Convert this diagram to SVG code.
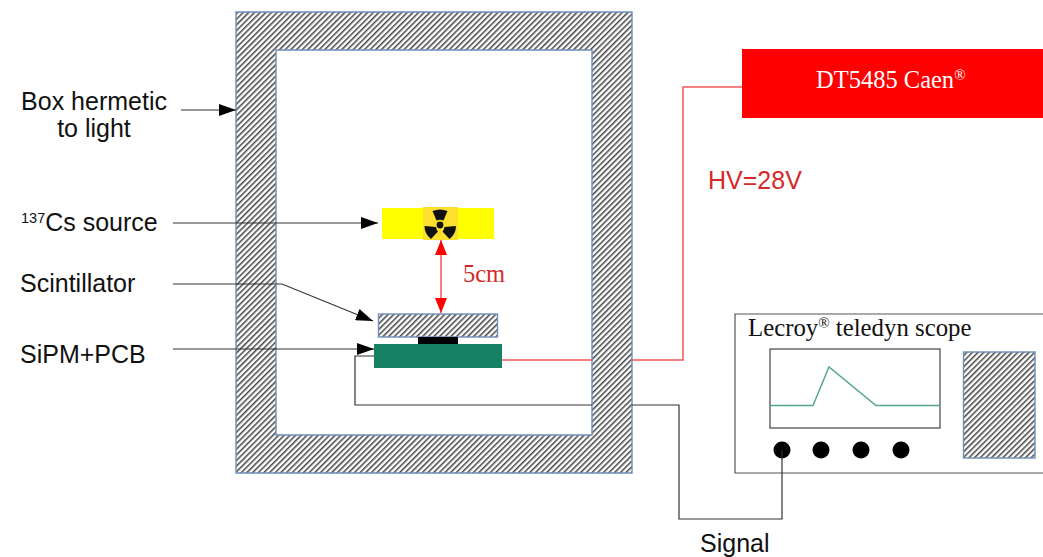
<svg xmlns="http://www.w3.org/2000/svg" width="1043" height="557" viewBox="0 0 1043 557">
<style>
.s{font-family:"Liberation Sans",Arial,sans-serif;font-size:25px;fill:#111}
.t{font-family:"Liberation Serif","Times New Roman",serif}
.h{fill:url(#hatch);stroke:#6d8fb8;stroke-width:1.4}
.c{fill:none;stroke:#333;stroke-width:1.2}
.k{fill:none;stroke:#333;stroke-width:1.2;marker-end:url(#ah)}
.r{fill:none;stroke:#f05a5a;stroke-width:1.5}
.d{fill:#000}
</style>
<defs>
<pattern id="hatch" width="4" height="4" patternUnits="userSpaceOnUse" patternTransform="rotate(-45)">
<rect width="4" height="4" fill="#fff"/><rect width="4" height="1.5" fill="#444"/>
</pattern>
<marker id="ah" markerUnits="userSpaceOnUse" markerWidth="18" markerHeight="12" refX="17" refY="6" orient="auto"><path d="M0 0L17 6L0 12Z" fill="#000"/></marker>
</defs>
<g id="box"><path class="h" fill-rule="evenodd" d="M236 12H632V473H236ZM276 50V435H592V50Z"/></g>
<g id="source">
<rect x="382" y="208" width="112" height="31" fill="#ff0"/>
<rect x="423" y="207" width="35" height="33" fill="#fde02e"/>
<circle cx="440" cy="225" r="3.400" fill="#111"/>
<path fill="#111" d="M432.500 211Q440 208 447.500 211L443.500 220.500Q440 219 436.500 220.500ZM424.500 226L436 227Q436.500 230 438 231.500L431 239Q424.500 234 424.500 226ZM456 226L444.500 227Q444 230 442.500 231.500L449.500 239Q456 234 456 226Z"/>
</g>
<g id="scintillator"><rect class="h" x="378.500" y="314" width="119" height="23"/></g>
<g id="sipm"><rect x="418" y="337" width="40" height="8" fill="#000"/><rect x="374" y="344" width="128" height="24" fill="#168163"/></g>
<g id="caen"><rect x="742" y="49" width="301" height="69" fill="#f00"/><text class="t" x="816" y="88" font-size="24.500" fill="#fff">DT5485 Caen<tspan font-size="15" dy="-8">®</tspan></text></g>
<g id="scope">
<path d="M1043 473H735V314H1043" fill="none" stroke="#555" stroke-width="1.2"/>
<text class="t" x="748" y="336" font-size="24.800" fill="#111">Lecroy<tspan font-size="15" dy="-8">®</tspan><tspan dy="8"> teledyn scope</tspan></text>
<rect x="770" y="349" width="170" height="79" fill="#fff" stroke="#444" stroke-width="1.2"/>
<path d="M770 405.500H813L829 367L876 405.500H940" fill="none" stroke="#4fa68c" stroke-width="1.4"/>
<rect class="h" x="963.500" y="352" width="71.500" height="106"/>
<circle class="d" cx="782" cy="450" r="8.500"/><circle class="d" cx="821" cy="450" r="8.500"/><circle class="d" cx="861" cy="450" r="8.500"/><circle class="d" cx="901" cy="450" r="8.500"/>
</g>
<g id="connectors">
<path class="k" d="M181 110H236"/>
<path class="k" d="M173 223H378"/>
<path class="k" d="M173 284H282L373 321"/>
<path class="k" d="M173 349H374"/>
<path class="c" d="M374 356H355V405H592M632 405H679V519H782V450"/>
<path class="r" d="M502 360H592M632 360H683V87H742"/>
<path d="M441 240V313" fill="none" stroke="#f44" stroke-width="1.4"/>
<path d="M441 240L447 255H435ZM441 313L447 298H435Z" fill="#f00"/>
</g>
<g id="labels">
<text class="s" x="94" y="110" text-anchor="middle">Box hermetic</text>
<text class="s" x="94" y="137" text-anchor="middle">to light</text>
<text class="s" x="21" y="231"><tspan font-size="14.500" dy="-8">137</tspan><tspan dy="8">Cs source</tspan></text>
<text class="s" x="20" y="292">Scintillator</text>
<text class="s" x="20" y="363">SiPM+PCB</text>
<text class="s" x="700" y="552">Signal</text>
<text x="708" y="189" font-family="Liberation Sans,Arial,sans-serif" font-size="25" fill="#d42a2a">HV=28V</text>
<text class="t" x="463" y="282" font-size="24.500" fill="#d42a2a">5cm</text>
</g>
</svg>
